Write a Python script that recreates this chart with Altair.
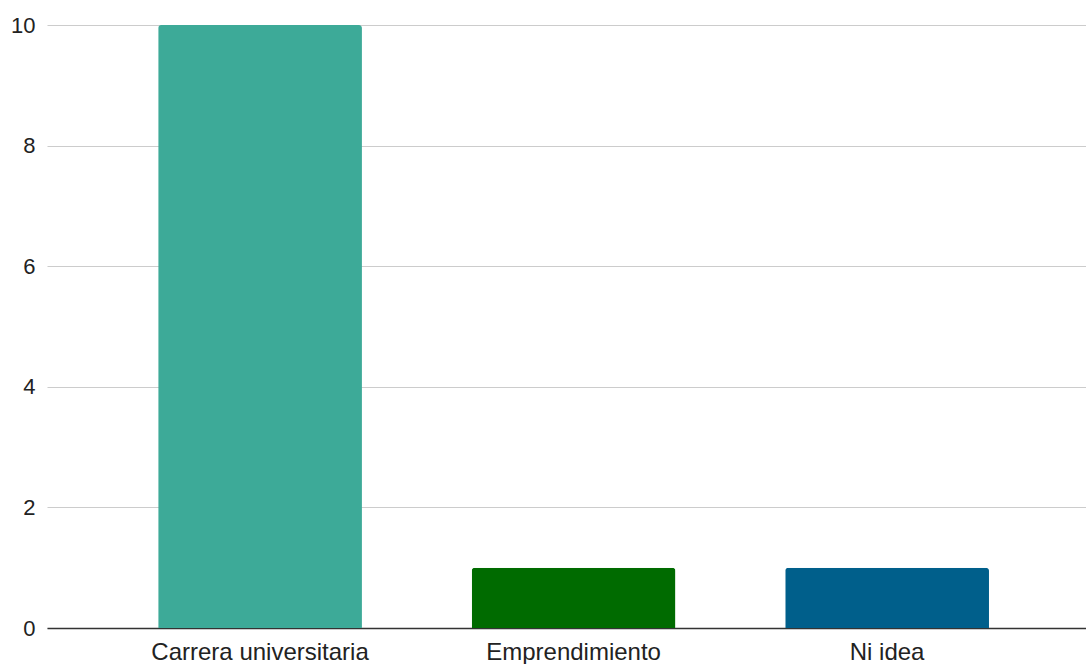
import altair as alt
import pandas as pd

# Survey answers and counts
categories = ["Carrera universitaria", "Emprendimiento", "Ni idea"]
counts = [10, 1, 1]
colors = ["#3DAA98", "#006B00", "#005F8B"]
y_ticks = [0, 2, 4, 6, 8, 10]

df = pd.DataFrame({"categoria": categories, "cantidad": counts})

font = "Liberation Sans"

bars = alt.Chart(df).mark_bar(cornerRadiusTopLeft=3, cornerRadiusTopRight=3).encode(
    x=alt.X(
        "categoria:N",
        sort=categories,
        title=None,
        scale=alt.Scale(paddingInner=0.35, paddingOuter=0.332, align=0.534),
        axis=alt.Axis(
            labelAngle=0,
            labelFont=font,
            labelFontSize=24,
            labelLimit=0,
            labelColor="#222222",
            labelPadding=12,
            ticks=False,
            domainColor="#333333",
            domainWidth=1.5,
            grid=False,
        ),
    ),
    y=alt.Y(
        "cantidad:Q",
        title=None,
        scale=alt.Scale(domain=[0, 10], nice=False),
        axis=alt.Axis(
            values=y_ticks,
            labelFont=font,
            labelFontSize=22,
            labelColor="#222222",
            labelPadding=12,
            ticks=False,
            domain=False,
            gridColor="#CCCCCC",
            gridWidth=1.2,
        ),
    ),
    color=alt.Color(
        "categoria:N",
        sort=categories,
        scale=alt.Scale(domain=categories, range=colors),
        legend=None,
    ),
)

chart = bars.properties(
    width=1039,
    height=603,
    padding={"left": 47, "top": 25, "right": 0, "bottom": 36},
    autosize=alt.AutoSizeParams(type="none"),
    background="white",
).configure_view(stroke=None)

chart.save("out.html", embed_options={"renderer": "svg", "actions": False})
